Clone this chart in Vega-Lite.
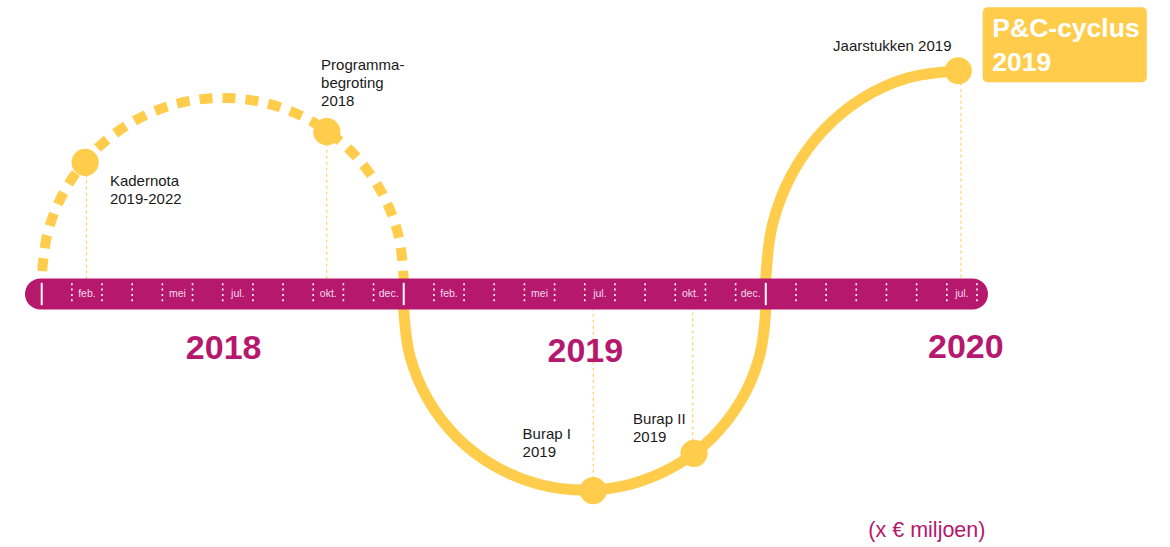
{
  "$schema": "https://vega.github.io/schema/vega-lite/v6.json",
  "width": 1170,
  "height": 547,
  "autosize": {"type": "fit", "contains": "padding"},
  "padding": 0,
  "background": "white",
  "config": {"view": {"stroke": null}, "font": "Liberation Sans"},
  "datasets": {
    "leaders": [
      {"m": 1.48, "v": 4.36, "v2": 0},
      {"m": 9.45, "v": 5.38, "v2": 0},
      {"m": 18.28, "v": -6.52, "v2": 0},
      {"m": 21.58, "v": -5.28, "v2": 0},
      {"m": 30.47, "v": 7.4, "v2": 0}
    ],
    "dashedArc": [
      {"o": 0, "m": 0, "v": 0},
      {"o": 1, "m": 0, "v": 0.5},
      {"o": 2, "m": 0.205, "v": 2.053},
      {"o": 3, "m": 0.804, "v": 3.5},
      {"o": 4, "m": 1.757, "v": 4.743},
      {"o": 5, "m": 3.0, "v": 5.696},
      {"o": 6, "m": 4.447, "v": 6.296},
      {"o": 7, "m": 6.0, "v": 6.5},
      {"o": 8, "m": 7.553, "v": 6.296},
      {"o": 9, "m": 9.0, "v": 5.696},
      {"o": 10, "m": 10.243, "v": 4.743},
      {"o": 11, "m": 11.196, "v": 3.5},
      {"o": 12, "m": 11.795, "v": 2.053},
      {"o": 13, "m": 12, "v": 0.5},
      {"o": 14, "m": 12, "v": 0}
    ],
    "solidArc": [
      {"o": 0, "m": 12, "v": 0},
      {"o": 1, "m": 12, "v": -0.5},
      {"o": 2, "m": 12.205, "v": -2.053},
      {"o": 3, "m": 12.804, "v": -3.5},
      {"o": 4, "m": 13.757, "v": -4.743},
      {"o": 5, "m": 15.0, "v": -5.696},
      {"o": 6, "m": 16.447, "v": -6.296},
      {"o": 7, "m": 18.0, "v": -6.5},
      {"o": 8, "m": 19.553, "v": -6.296},
      {"o": 9, "m": 21.0, "v": -5.696},
      {"o": 10, "m": 22.243, "v": -4.743},
      {"o": 11, "m": 23.196, "v": -3.5},
      {"o": 12, "m": 23.795, "v": -2.053},
      {"o": 13, "m": 24.0, "v": -0.5},
      {"o": 14, "m": 24.0, "v": 0.5},
      {"o": 15, "m": 24.217, "v": 2.286},
      {"o": 16, "m": 24.853, "v": 3.95},
      {"o": 17, "m": 25.866, "v": 5.379},
      {"o": 18, "m": 27.185, "v": 6.475},
      {"o": 19, "m": 28.721, "v": 7.165},
      {"o": 20, "m": 30.38, "v": 7.4}
    ],
    "bar": [{"m": -0.554, "m2": 31.366, "v": -0.514, "v2": 0.514}],
    "dotted": [
      {"m": 1, "v": 0.36, "v2": -0.36}, {"m": 2, "v": 0.36, "v2": -0.36}, {"m": 3, "v": 0.36, "v2": -0.36}, {"m": 4, "v": 0.36, "v2": -0.36},
      {"m": 5, "v": 0.36, "v2": -0.36}, {"m": 6, "v": 0.36, "v2": -0.36}, {"m": 7, "v": 0.36, "v2": -0.36}, {"m": 8, "v": 0.36, "v2": -0.36},
      {"m": 9, "v": 0.36, "v2": -0.36}, {"m": 10, "v": 0.36, "v2": -0.36}, {"m": 11, "v": 0.36, "v2": -0.36},
      {"m": 13, "v": 0.36, "v2": -0.36}, {"m": 14, "v": 0.36, "v2": -0.36}, {"m": 15, "v": 0.36, "v2": -0.36}, {"m": 16, "v": 0.36, "v2": -0.36},
      {"m": 17, "v": 0.36, "v2": -0.36}, {"m": 18, "v": 0.36, "v2": -0.36}, {"m": 19, "v": 0.36, "v2": -0.36}, {"m": 20, "v": 0.36, "v2": -0.36},
      {"m": 21, "v": 0.36, "v2": -0.36}, {"m": 22, "v": 0.36, "v2": -0.36}, {"m": 23, "v": 0.36, "v2": -0.36},
      {"m": 25, "v": 0.36, "v2": -0.36}, {"m": 26, "v": 0.36, "v2": -0.36}, {"m": 27, "v": 0.36, "v2": -0.36}, {"m": 28, "v": 0.36, "v2": -0.36},
      {"m": 29, "v": 0.36, "v2": -0.36}, {"m": 30, "v": 0.36, "v2": -0.36}, {"m": 31, "v": 0.36, "v2": -0.36}
    ],
    "yearTicks": [
      {"m": 0, "v": 0.37, "v2": -0.37}, {"m": 12, "v": 0.37, "v2": -0.37}, {"m": 24, "v": 0.37, "v2": -0.37}
    ],
    "months": [
      {"m": 1.5, "v": 0, "t": "feb."}, {"m": 4.5, "v": 0, "t": "mei"}, {"m": 6.5, "v": 0, "t": "jul."}, {"m": 9.5, "v": 0, "t": "okt."}, {"m": 11.5, "v": 0, "t": "dec."},
      {"m": 13.5, "v": 0, "t": "feb."}, {"m": 16.5, "v": 0, "t": "mei"}, {"m": 18.5, "v": 0, "t": "jul."}, {"m": 21.5, "v": 0, "t": "okt."}, {"m": 23.5, "v": 0, "t": "dec."},
      {"m": 30.5, "v": 0, "t": "jul."}
    ],
    "dots": [
      {"m": 1.44, "v": 4.36, "naam": "Kadernota 2019-2022"},
      {"m": 9.45, "v": 5.38, "naam": "Programmabegroting 2018"},
      {"m": 18.28, "v": -6.52, "naam": "Burap I 2019"},
      {"m": 21.62, "v": -5.28, "naam": "Burap II 2019"},
      {"m": 30.38, "v": 7.4, "naam": "Jaarstukken 2019"}
    ],
    "labels": [
      {"m": 2.26, "v": 3.58, "t": "Kadernota\n2019-2022"},
      {"m": 9.26, "v": 7.42, "t": "Programma-\nbegroting\n2018"},
      {"m": 26.23, "v": 8.05, "t": "Jaarstukken 2019"},
      {"m": 15.94, "v": -4.79, "t": "Burap I\n2019"},
      {"m": 19.6, "v": -4.31, "t": "Burap II\n2019"}
    ],
    "years": [
      {"m": 6.03, "v": -2.16, "t": "2018"},
      {"m": 18.02, "v": -2.26, "t": "2019"},
      {"m": 30.63, "v": -2.13, "t": "2020"}
    ],
    "box": [{"m": 31.19, "m2": 36.63, "v": 7.017, "v2": 9.503}],
    "boxText": [{"m": 31.51, "v": 8.53, "t": "P&C-cyclus\n2019"}],
    "unit": [{"m": 27.4, "v": -8.04, "t": "(x € miljoen)"}]
  },
  "encoding": {
    "x": {"field": "m", "type": "quantitative", "scale": {"domain": [-1.382, 37.398], "nice": false, "zero": false}, "axis": null},
    "y": {"field": "v", "type": "quantitative", "scale": {"domain": [-8.386, 9.745], "nice": false, "zero": false}, "axis": null}
  },
  "layer": [
    {
      "data": {"name": "leaders"},
      "mark": {"type": "rule", "color": "#FDC94F", "strokeWidth": 1, "strokeDash": [3, 3]},
      "encoding": {"y2": {"field": "v2"}}
    },
    {
      "data": {"name": "dashedArc"},
      "mark": {"type": "line", "color": "#FFCD4B", "strokeWidth": 10, "strokeDash": [13, 10], "interpolate": "catmull-rom", "strokeCap": "butt"},
      "encoding": {"order": {"field": "o", "type": "quantitative"}}
    },
    {
      "data": {"name": "solidArc"},
      "mark": {"type": "line", "color": "#FFCD4B", "strokeWidth": 11, "interpolate": "catmull-rom", "strokeCap": "butt"},
      "encoding": {"order": {"field": "o", "type": "quantitative"}}
    },
    {
      "data": {"name": "bar"},
      "mark": {"type": "rect", "color": "#B5186D", "cornerRadius": 15.5},
      "encoding": {"x2": {"field": "m2"}, "y2": {"field": "v2"}}
    },
    {
      "data": {"name": "dotted"},
      "mark": {"type": "rule", "color": "white", "strokeWidth": 1.6, "strokeDash": [2, 3.4]},
      "encoding": {"y2": {"field": "v2"}}
    },
    {
      "data": {"name": "yearTicks"},
      "mark": {"type": "rule", "color": "white", "strokeWidth": 2},
      "encoding": {"y2": {"field": "v2"}}
    },
    {
      "data": {"name": "months"},
      "mark": {"type": "text", "color": "#F6DCE9", "fontSize": 10.5, "align": "center", "baseline": "middle"},
      "encoding": {"text": {"field": "t"}}
    },
    {
      "data": {"name": "dots"},
      "mark": {"type": "point", "shape": "circle", "filled": true, "opacity": 1, "color": "#FFCD4B", "size": 740},
      "encoding": {"tooltip": {"field": "naam"}}
    },
    {
      "data": {"name": "labels"},
      "mark": {"type": "text", "color": "#1A1A1A", "fontSize": 15, "align": "left", "baseline": "alphabetic", "lineBreak": "\n", "lineHeight": 18},
      "encoding": {"text": {"field": "t"}}
    },
    {
      "data": {"name": "years"},
      "mark": {"type": "text", "color": "#B5186D", "fontSize": 34, "fontWeight": "bold", "align": "center", "baseline": "alphabetic"},
      "encoding": {"text": {"field": "t"}}
    },
    {
      "data": {"name": "box"},
      "mark": {"type": "rect", "color": "#FFCD4B", "cornerRadius": 5},
      "encoding": {"x2": {"field": "m2"}, "y2": {"field": "v2"}}
    },
    {
      "data": {"name": "boxText"},
      "mark": {"type": "text", "color": "white", "fontSize": 26.5, "fontWeight": "bold", "align": "left", "baseline": "alphabetic", "lineBreak": "\n", "lineHeight": 34},
      "encoding": {"text": {"field": "t"}}
    },
    {
      "data": {"name": "unit"},
      "mark": {"type": "text", "color": "#B5186D", "fontSize": 21.5, "align": "left", "baseline": "alphabetic"},
      "encoding": {"text": {"field": "t"}}
    }
  ]
}
